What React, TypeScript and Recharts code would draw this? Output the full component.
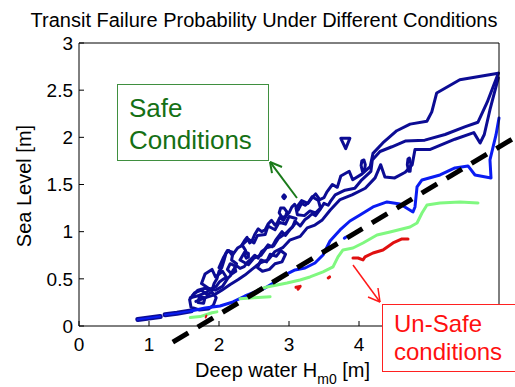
import React from 'react';
import { LineChart, Line, XAxis, YAxis, ReferenceLine } from 'recharts';

// ---- axis ticks ----
const X_TICKS = [0, 1, 2, 3, 4, 5, 6];
const Y_TICKS = [0, 0.5, 1, 1.5, 2, 2.5, 3];

// ---- navy contours (high probability of safe transit) ----
const navyOuter: [number, number][] = [
  [5.99, 2.68], [5.44, 2.61], [5.11, 2.47], [5.04, 2.27], [4.97, 2.17], [4.73, 2.14], [4.54, 2.07],
  [4.34, 1.94], [4.2, 1.83], [4.16, 1.69], [4.04, 1.61], [3.91, 1.55], [3.86, 1.64], [3.74, 1.59],
  [3.69, 1.47], [3.62, 1.5], [3.54, 1.42], [3.5, 1.36], [3.44, 1.34], [3.38, 1.4], [3.34, 1.37],
  [3.28, 1.31], [3.23, 1.28], [3.18, 1.3], [3.13, 1.23], [3.08, 1.29], [3.04, 1.26], [3.0, 1.2],
  [2.97, 1.18], [2.92, 1.12], [2.87, 1.15], [2.83, 1.09], [2.8, 1.07], [2.75, 1.12], [2.7, 1.08],
  [2.66, 1.02], [2.61, 1.0], [2.56, 1.03], [2.51, 0.97], [2.47, 0.9], [2.44, 0.88], [2.4, 0.94],
  [2.37, 0.91], [2.32, 0.85], [2.27, 0.83], [2.23, 0.79], [2.19, 0.75], [2.14, 0.8], [2.1, 0.77],
  [2.07, 0.69], [2.04, 0.62], [2.0, 0.58], [1.97, 0.5], [1.93, 0.45], [1.9, 0.38], [1.8, 0.4],
  [1.7, 0.38], [1.62, 0.32],
];
const navyMid: [number, number][] = [
  [5.99, 2.68], [5.83, 2.37], [5.7, 2.16], [5.51, 2.11], [5.23, 2.03], [4.94, 1.97], [4.66, 1.96],
  [4.47, 1.9], [4.3, 1.85], [4.19, 1.76], [4.17, 1.64], [4.04, 1.55], [3.94, 1.46], [3.8, 1.44],
  [3.66, 1.39], [3.6, 1.33], [3.56, 1.28], [3.5, 1.3], [3.44, 1.23], [3.38, 1.17], [3.33, 1.19],
  [3.27, 1.15], [3.23, 1.13], [3.16, 1.06], [3.1, 1.1], [3.05, 1.05], [3.01, 1.02], [2.95, 0.96],
  [2.9, 1.0], [2.85, 0.95], [2.81, 0.91], [2.76, 0.84], [2.7, 0.86], [2.65, 0.81], [2.61, 0.79],
  [2.56, 0.72], [2.51, 0.75], [2.46, 0.71], [2.41, 0.68], [2.36, 0.63], [2.3, 0.61], [2.25, 0.64],
  [2.2, 0.59], [2.16, 0.53], [2.13, 0.51], [2.07, 0.5], [2.01, 0.47], [1.96, 0.42], [1.91, 0.4],
  [1.8, 0.35], [1.7, 0.32], [1.59, 0.3],
];
const navyInner: [number, number][] = [
  [5.99, 2.63], [5.87, 2.29], [5.79, 2.03], [5.73, 1.94], [5.64, 2.05], [5.37, 1.98], [5.01, 1.87],
  [4.8, 1.87], [4.76, 1.71], [4.66, 1.63], [4.51, 1.57], [4.37, 1.58], [4.31, 1.71], [4.23, 1.57],
  [4.09, 1.46], [3.9, 1.39], [3.73, 1.34], [3.59, 1.23], [3.47, 1.12], [3.37, 1.07], [3.26, 1.04],
  [3.16, 0.95], [3.01, 0.91], [2.91, 0.83], [2.8, 0.79], [2.7, 0.7], [2.59, 0.67], [2.47, 0.6],
  [2.37, 0.54], [2.27, 0.49], [2.16, 0.44], [2.04, 0.38], [1.93, 0.33], [1.81, 0.3], [1.67, 0.26],
];
const navyLoopA: [number, number][] = [
  [2.3, 0.7], [2.38, 0.8], [2.33, 0.86], [2.42, 0.92], [2.5, 0.88], [2.55, 0.96], [2.66, 0.97],
  [2.7, 1.06], [2.8, 1.02], [2.86, 1.1], [2.95, 1.08], [3.0, 1.16], [3.1, 1.14], [3.05, 1.05],
  [2.95, 0.98], [2.85, 0.93], [2.78, 0.85], [2.68, 0.83], [2.6, 0.75], [2.5, 0.72], [2.42, 0.65], [2.3, 0.7],
];
const navyLoopB: [number, number][] = [
  [1.75, 0.45], [1.8, 0.55], [1.9, 0.6], [1.95, 0.52], [2.05, 0.58], [2.12, 0.5], [2.05, 0.42],
  [1.95, 0.38], [1.85, 0.4], [1.75, 0.45],
];
const navyLoopD: [number, number][] = [
  [2.55, 0.62], [2.6, 0.7], [2.68, 0.68], [2.73, 0.76], [2.82, 0.74], [2.88, 0.8], [2.95, 0.76],
  [2.9, 0.68], [2.8, 0.66], [2.72, 0.6], [2.62, 0.58], [2.55, 0.62],
];
const navyLoopE: [number, number][] = [
  [2.12, 0.6], [2.16, 0.66], [2.22, 0.64], [2.24, 0.58], [2.18, 0.55], [2.12, 0.6],
];
const navySmallRing: [number, number][] = [
  [2.37, 0.75], [2.39, 0.78], [2.42, 0.77], [2.42, 0.73], [2.39, 0.72], [2.37, 0.75],
];
const navyBlob: [number, number][] = [
  [1.6, 0.2], [1.58, 0.28], [1.65, 0.35], [1.75, 0.38], [1.83, 0.33], [1.9, 0.36], [1.96, 0.3],
  [1.92, 0.22], [1.85, 0.18], [1.72, 0.17], [1.6, 0.2],
];
const navyBlobInner: [number, number][] = [
  [1.7, 0.25], [1.72, 0.31], [1.8, 0.3], [1.78, 0.24], [1.7, 0.25],
];
const navyLoopC: [number, number][] = [
  [3.1, 1.25], [3.18, 1.33], [3.27, 1.3], [3.33, 1.37], [3.42, 1.33], [3.45, 1.25], [3.38, 1.2],
  [3.3, 1.22], [3.22, 1.17], [3.12, 1.18], [3.1, 1.25],
];
const navyWiggle: [number, number][] = [
  [2.0, 0.62], [2.06, 0.72], [2.12, 0.8], [2.2, 0.78], [2.18, 0.7], [2.25, 0.66],
];
const navyTriangle: [number, number][] = [[3.74, 1.99], [3.87, 1.99], [3.81, 1.88], [3.74, 1.99]];
const navyOval1: [number, number][] = [
  [4.03, 1.7], [4.04, 1.75], [4.07, 1.76], [4.09, 1.71], [4.08, 1.65], [4.05, 1.64], [4.03, 1.7],
];
const navyOval2: [number, number][] = [
  [4.69, 1.71], [4.7, 1.77], [4.72, 1.78], [4.74, 1.72], [4.73, 1.64], [4.71, 1.64], [4.69, 1.71],
];
const navyCircle: [number, number][] = [
  [2.86, 1.2], [2.88, 1.25], [2.93, 1.25], [2.97, 1.21], [2.95, 1.16], [2.9, 1.15], [2.86, 1.2],
];
const navyDot: [number, number][] = [[2.91, 1.37], [2.93, 1.39], [2.95, 1.37], [2.93, 1.35], [2.91, 1.37]];
const lowBar1: [number, number][] = [[0.84, 0.07], [1.0, 0.085], [1.16, 0.1]];
const lowBar2: [number, number][] = [[1.23, 0.12], [1.4, 0.135], [1.6, 0.16]];

// ---- blue contour ----
const blueLine: [number, number][] = [
  [6.0, 2.206], [5.957, 2.025], [5.871, 1.76], [5.886, 1.569], [5.657, 1.601], [5.557, 1.697],
  [5.371, 1.676], [5.157, 1.601], [4.9, 1.548], [4.829, 1.474], [4.8, 1.262], [4.771, 1.209],
  [4.586, 1.294], [4.4, 1.315], [4.2, 1.262], [4.014, 1.177], [3.871, 1.113], [3.729, 1.018],
  [3.586, 0.901], [3.486, 0.753], [3.371, 0.668], [3.229, 0.615], [3.086, 0.594], [2.943, 0.541],
  [2.8, 0.467], [2.657, 0.403], [2.514, 0.361], [2.371, 0.318], [2.2, 0.255], [2.014, 0.212],
  [1.8, 0.191], [1.6, 0.16],
];
const blueDot: [number, number][] = [[3.79, 0.93], [3.81, 0.94]];

// ---- light green contour ----
const greenLine: [number, number][] = [
  [5.7, 1.304], [5.443, 1.315], [5.157, 1.304], [4.971, 1.283], [4.9, 1.198], [4.829, 1.092],
  [4.729, 1.05], [4.443, 0.997], [4.257, 0.965], [4.057, 0.88], [3.914, 0.827], [3.771, 0.806],
  [3.7, 0.732], [3.629, 0.626], [3.486, 0.573], [3.3, 0.52], [3.157, 0.488], [2.971, 0.456],
  [2.686, 0.414], [2.557, 0.382],
];
const greenBit1: [number, number][] = [[2.3, 0.29], [2.5, 0.3], [2.73, 0.31]];
const greenBit2: [number, number][] = [[1.59, 0.09], [1.73, 0.1], [1.9, 0.14], [1.97, 0.15]];

// ---- red contour (un-safe) ----
const redLine: [number, number][] = [
  [4.7, 0.923], [4.614, 0.923], [4.486, 0.88], [4.343, 0.806], [4.2, 0.774], [4.086, 0.732],
  [4.057, 0.7], [3.986, 0.721], [3.914, 0.721],
];
const redBit1: [number, number][] = [[3.1, 0.41], [3.16, 0.42], [3.13, 0.39]];
const redBit2: [number, number][] = [[3.56, 0.51], [3.58, 0.52]];
const redBit3: [number, number][] = [[1.81, 0.09], [1.82, 0.11]];

// ---- dashed limit line ----
const limitLine = [{ x: 1.34, y: -0.17 }, { x: 6.23, y: 2.0 }];

// ---- annotation arrows (data units) ----
const greenArrow = [{ x: 3.114, y: 1.357 }, { x: 2.729, y: 1.739 }];
const greenHeadA = [{ x: 2.729, y: 1.739 }, { x: 2.9, y: 1.686 }];
const greenHeadB = [{ x: 2.729, y: 1.739 }, { x: 2.757, y: 1.62 }];
const redArrow = [{ x: 3.914, y: 0.647 }, { x: 4.3, y: 0.254 }];
const redHeadA = [{ x: 4.3, y: 0.254 }, { x: 4.129, y: 0.308 }];
const redHeadB = [{ x: 4.3, y: 0.254 }, { x: 4.271, y: 0.403 }];

const NAVY = '#0c0c94';
const BLUE = '#0a1cf2';
const GREEN = '#80f880';
const RED = '#e01010';
const FONT = '"Liberation Sans", Arial, Helvetica, sans-serif';

const toPts = (a: [number, number][]) => a.map(([x, y]) => ({ x, y }));

const series: { data: [number, number][]; color: string; w: number }[] = [
  { data: navyOuter, color: NAVY, w: 3 },
  { data: navyMid, color: NAVY, w: 3 },
  { data: navyInner, color: NAVY, w: 3 },
  { data: navyLoopA, color: NAVY, w: 3 },
  { data: navyLoopB, color: NAVY, w: 3 },
  { data: navyLoopD, color: NAVY, w: 3 },
  { data: navyLoopE, color: NAVY, w: 3 },
  { data: navySmallRing, color: NAVY, w: 3 },
  { data: navyBlob, color: NAVY, w: 3 },
  { data: navyBlobInner, color: NAVY, w: 3 },
  { data: navyLoopC, color: NAVY, w: 3 },
  { data: navyWiggle, color: NAVY, w: 3 },
  { data: navyTriangle, color: NAVY, w: 3 },
  { data: navyOval1, color: NAVY, w: 3 },
  { data: navyOval2, color: NAVY, w: 3 },
  { data: navyCircle, color: NAVY, w: 3 },
  { data: navyDot, color: NAVY, w: 3 },
  { data: lowBar1, color: NAVY, w: 5 },
  { data: lowBar2, color: NAVY, w: 5 },
  { data: lowBar1, color: BLUE, w: 2 },
  { data: lowBar2, color: BLUE, w: 2 },
  { data: blueLine, color: BLUE, w: 3 },
  { data: blueDot, color: BLUE, w: 3 },
  { data: greenLine, color: GREEN, w: 3 },
  { data: greenBit1, color: GREEN, w: 3 },
  { data: greenBit2, color: GREEN, w: 3 },
  { data: redLine, color: RED, w: 3 },
  { data: redBit1, color: RED, w: 3 },
  { data: redBit2, color: RED, w: 3 },
  { data: redBit3, color: RED, w: 2 },
];

const tickStyle = { fontSize: 19, fontFamily: FONT, fill: '#000' };
// tick labels 5 and 6 are hidden behind the "Un-Safe" box in the original
const xTickFormat = (v: number) => (v >= 5 ? '' : String(v));

export default function App() {
  return (
    <div style={{ position: 'absolute', left: 0, top: 0, width: 515, height: 387, overflow: 'hidden', background: '#fff' }}>
      <LineChart width={515} height={387} margin={{ top: 33, right: 6, bottom: 31, left: 29 }}>
        <XAxis
          xAxisId={0}
          type="number"
          dataKey="x"
          domain={[0, 6]}
          ticks={X_TICKS}
          height={30}
          tickSize={-5}
          tickMargin={17}
          tick={tickStyle}
          tickFormatter={xTickFormat}
          stroke="#000"
        />
        <XAxis
          xAxisId="top"
          orientation="top"
          type="number"
          domain={[0, 6]}
          ticks={X_TICKS}
          height={10}
          tickSize={-5}
          tick={false}
          stroke="#000"
        />
        <YAxis
          yAxisId={0}
          type="number"
          domain={[0, 3]}
          ticks={Y_TICKS}
          width={50}
          tickSize={-5}
          tickMargin={11}
          tick={tickStyle}
          stroke="#000"
        />
        <YAxis
          yAxisId="right"
          orientation="right"
          type="number"
          domain={[0, 3]}
          ticks={Y_TICKS}
          width={10}
          tickSize={-5}
          tick={false}
          stroke="#000"
        />
        {series.map((s, i) => (
          <Line
            key={i}
            data={toPts(s.data)}
            dataKey="y"
            type="linear"
            stroke={s.color}
            strokeWidth={s.w}
            strokeLinejoin="round"
            strokeLinecap="round"
            dot={false}
            activeDot={false}
            isAnimationActive={false}
          />
        ))}
        <ReferenceLine segment={limitLine} ifOverflow="visible" stroke="#000" strokeWidth={5} strokeDasharray="18 11" />
        <ReferenceLine segment={greenArrow} ifOverflow="visible" stroke="#1a7a1a" strokeWidth={2} />
        <ReferenceLine segment={greenHeadA} ifOverflow="visible" stroke="#1a7a1a" strokeWidth={2} />
        <ReferenceLine segment={greenHeadB} ifOverflow="visible" stroke="#1a7a1a" strokeWidth={2} />
        <ReferenceLine segment={redArrow} ifOverflow="visible" stroke="#ff1a1a" strokeWidth={1.5} />
        <ReferenceLine segment={redHeadA} ifOverflow="visible" stroke="#ff1a1a" strokeWidth={1.5} />
        <ReferenceLine segment={redHeadB} ifOverflow="visible" stroke="#ff1a1a" strokeWidth={1.5} />
      </LineChart>

      <svg width={515} height={387} style={{ position: 'absolute', left: 0, top: 0, pointerEvents: 'none' }}>
        <text x={264} y={27} textAnchor="middle" fontFamily={FONT} fontSize={20} fill="#000">
          Transit Failure Probability Under Different Conditions
        </text>
        <text x={195} y={377} fontFamily={FONT} fontSize={20} fill="#000">
          Deep water H
          <tspan fontSize={14} dy={7}>m0</tspan>
          <tspan dy={-7}> [m]</tspan>
        </text>
        <text
          x={31}
          y={186}
          textAnchor="middle"
          fontFamily={FONT}
          fontSize={20}
          fill="#000"
          transform="rotate(-90 31 186)"
        >
          Sea Level [m]
        </text>
      </svg>

      <div
        style={{
          position: 'absolute', left: 117, top: 84, width: 152, height: 77, boxSizing: 'border-box',
          border: '1.5px solid #3f8f3f', background: '#fff', color: '#157015',
          fontFamily: FONT, fontSize: 26, lineHeight: '32px', paddingLeft: 11, paddingTop: 7,
        }}
      >
        Safe<br />Conditions
      </div>
      <div
        style={{
          position: 'absolute', left: 382, top: 304, width: 140, height: 68, boxSizing: 'border-box',
          border: '1.5px solid #ff2020', background: '#fff', color: '#ff1010',
          fontFamily: FONT, fontSize: 24, lineHeight: '28px', paddingLeft: 11, paddingTop: 5,
        }}
      >
        Un-Safe<br />conditions
      </div>
    </div>
  );
}
